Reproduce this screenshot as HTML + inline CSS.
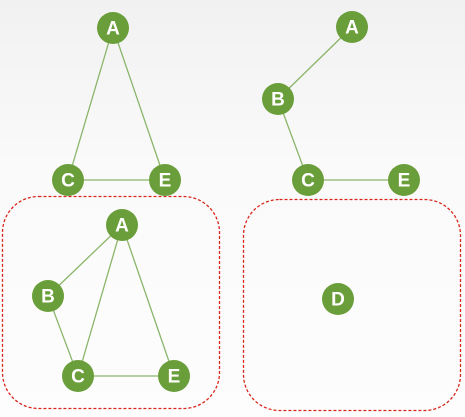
<!DOCTYPE html>
<html><head><meta charset="utf-8"><style>
html,body{margin:0;padding:0;width:465px;height:417px;overflow:hidden;background:linear-gradient(#f1f1f1,#fafafa 40%,#fdfdfd);}
svg{display:block}
text{font-family:"Liberation Sans",sans-serif;font-weight:bold;font-size:19px;fill:#fff;text-anchor:middle;dominant-baseline:central}
</style></head><body>
<svg width="465" height="417" viewBox="0 0 465 417">
<g fill="none" stroke="#d9261c" stroke-width="1.3" stroke-dasharray="3,2">
<rect x="2.5" y="196.5" width="217" height="212" rx="36"/>
<rect x="243.5" y="199.5" width="217" height="211" rx="36"/>
</g>
<g stroke="#8ab56a" stroke-width="1.3">
<line x1="113" y1="28" x2="68" y2="180"/><line x1="113" y1="28" x2="165" y2="180"/><line x1="68" y1="180" x2="165" y2="180"/>
<line x1="352" y1="27" x2="278" y2="99"/><line x1="278" y1="99" x2="308" y2="180"/><line x1="308" y1="180" x2="404" y2="180"/>
<line x1="122" y1="225" x2="48" y2="296"/><line x1="122" y1="225" x2="78" y2="376"/><line x1="122" y1="225" x2="174" y2="376"/><line x1="48" y1="296" x2="78" y2="376"/><line x1="78" y1="376" x2="174" y2="376"/>
</g>
<g fill="#6a9e3a">
<circle cx="113" cy="28" r="16"/><circle cx="68" cy="180" r="16"/><circle cx="165" cy="180" r="16"/>
<circle cx="352" cy="27" r="16"/><circle cx="278" cy="99" r="16"/><circle cx="308" cy="180" r="16"/><circle cx="404" cy="180" r="16"/>
<circle cx="122" cy="225" r="16"/><circle cx="48" cy="296" r="16"/><circle cx="78" cy="376" r="16"/><circle cx="174" cy="376" r="16"/>
<circle cx="338" cy="299" r="16"/>
</g>
<text x="113" y="29">A</text><text x="68" y="181">C</text><text x="165" y="181">E</text>
<text x="352" y="28">A</text><text x="278" y="100">B</text><text x="308" y="181">C</text><text x="404" y="181">E</text>
<text x="122" y="226">A</text><text x="48" y="297">B</text><text x="78" y="377">C</text><text x="174" y="377">E</text>
<text x="338" y="300">D</text>
</svg>
</body></html>
